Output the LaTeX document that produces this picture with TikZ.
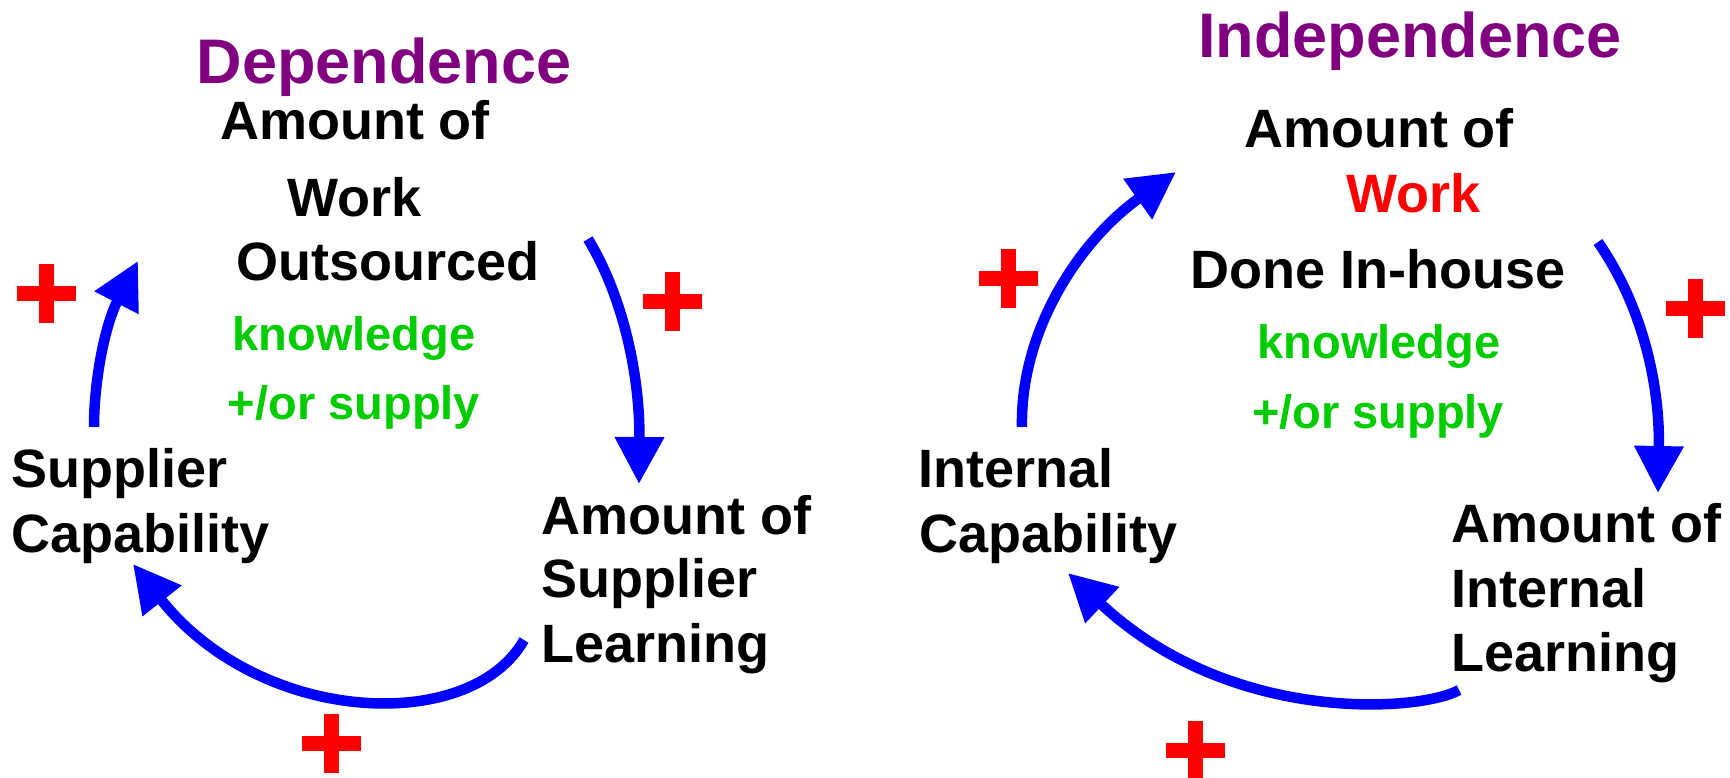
\documentclass[tikz,border=0pt]{standalone}
\usepackage{fontspec}
\setmainfont{Liberation Sans}
\usetikzlibrary{arrows.meta}
\definecolor{pur}{RGB}{128,0,128}
\definecolor{grn}{RGB}{0,204,0}
\definecolor{blu}{RGB}{0,0,255}
\definecolor{rd}{RGB}{255,0,0}
\begin{document}
\begin{tikzpicture}[x=1pt,y=-1pt,
  lbl/.style={inner sep=0pt, font=\bfseries\fontsize{54}{60}\selectfont},
  ttl/.style={inner sep=0pt, text=pur, font=\bfseries\fontsize{63}{70}\selectfont},
  kn/.style={inner sep=0pt, text=grn, font=\bfseries\fontsize{47}{54}\selectfont},
  link/.style={draw=blu, line width=10.5pt, -{Triangle[length=47pt,width=47pt]}},
  plussign/.pic={\fill[rd] (-29.5,-7.5) rectangle (29.5,7.5); \fill[rd] (-7.5,-29.5) rectangle (7.5,29.5);}
]
\useasboundingbox (0,0) rectangle (1730,777);
% ---------- left panel ----------
\node[ttl, anchor=base] (dep) at (384,83) {Dependence};
\node[lbl, anchor=base] (l1) at (355,139) {Amount of};
\node[lbl, anchor=base] (l2) at (355,216) {Work};
\node[lbl, anchor=base] (l3) at (388,280) {Outsourced};
\node[kn, anchor=base] (lk1) at (354,350) {knowledge};
\node[kn, anchor=base] (lk2) at (354,419) {+/or supply};
\node[lbl, anchor=base west] (sc1) at (11,487) {Supplier};
\node[lbl, anchor=base west] (sc2) at (11,552) {Capability};
\node[lbl, anchor=base west] (sl1) at (541,534) {Amount of};
\node[lbl, anchor=base west] (sl2) at (541,597) {Supplier};
\node[lbl, anchor=base west] (sl3) at (541,662) {Learning};
\coordinate (a1s) at (94,427);   \coordinate (a1e) at (138,261);
\coordinate (a2s) at (588,239);  \coordinate (a2e) at (639,484);
\coordinate (a3s) at (524,640);  \coordinate (a3e) at (133,564);
\draw[link] (a1s) .. controls (94,380) and (105,325) .. (a1e);
\draw[link] (a2s) .. controls (625,300) and (640,380) .. (a2e);
\draw[link] (a3s) .. controls (470,735) and (260,725) .. (a3e);
\pic at (46,293) {plussign};
\pic at (672,301) {plussign};
\pic at (331,743) {plussign};
% ---------- right panel ----------
\node[ttl, anchor=base] (ind) at (1410,57) {Independence};
\node[lbl, anchor=base] (r1) at (1379,147) {Amount of};
\node[lbl, anchor=base, text=rd] (r2) at (1413,212) {Work};
\node[lbl, anchor=base] (r3) at (1378,288) {Done In-house};
\node[kn, anchor=base] (rk1) at (1379,358) {knowledge};
\node[kn, anchor=base] (rk2) at (1378,428) {+/or supply};
\node[lbl, anchor=base west] (ic1) at (918,487) {Internal};
\node[lbl, anchor=base west] (ic2) at (919,552) {Capability};
\node[lbl, anchor=base west] (il1) at (1451,542) {Amount of};
\node[lbl, anchor=base west] (il2) at (1451,607) {Internal};
\node[lbl, anchor=base west] (il3) at (1451,671) {Learning};
\coordinate (b1s) at (1022,427);  \coordinate (b1e) at (1176,172);
\coordinate (b2s) at (1598,242);  \coordinate (b2e) at (1658,493);
\coordinate (b3s) at (1459,690);  \coordinate (b3e) at (1068,573);
\draw[link] (b1s) .. controls (1020,330) and (1080,240) .. (b1e);
\draw[link] (b2s) .. controls (1645,310) and (1660,390) .. (b2e);
\draw[link] (b3s) .. controls (1420,712) and (1230,725) .. (b3e);
\pic at (1008,278) {plussign};
\pic at (1695,308) {plussign};
\pic at (1195,750) {plussign};
\end{tikzpicture}
\end{document}
